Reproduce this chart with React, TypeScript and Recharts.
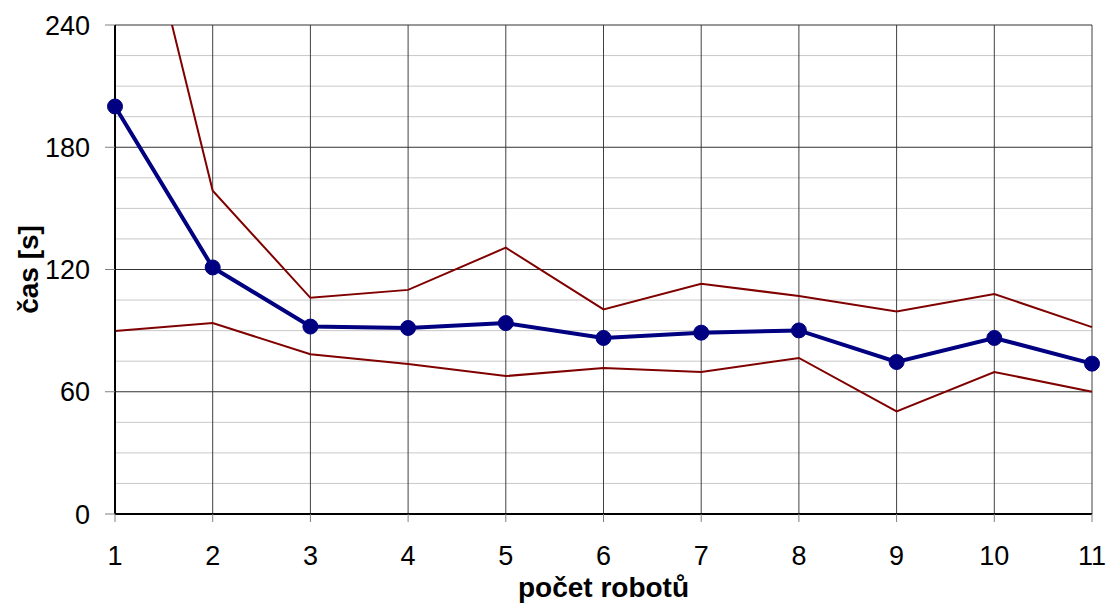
import { CartesianGrid, Line, LineChart, XAxis, YAxis } from "recharts";

const robots = [1, 2, 3, 4, 5, 6, 7, 8, 9, 10, 11];
const meanTime = [200, 121, 92, 91.3, 93.7, 86.4, 89, 90.1, 74.6, 86.4, 73.8];
const maxTime = [354, 158.7, 106.1, 110, 130.7, 100.4, 113, 107, 99.4, 108, 91.7];
const minTime = [89.8, 93.7, 78.4, 73.6, 67.7, 71.7, 69.7, 76.6, 50.4, 69.7, 60];

const yTicks = [0, 60, 120, 180, 240];
const yMinor = [15, 30, 45, 75, 90, 105, 135, 150, 165, 195, 210, 225];

const FONT = "'Liberation Sans', Arial, Helvetica, sans-serif";

const data = robots.map((x, i) => ({
  x,
  mean: meanTime[i],
  max: maxTime[i],
  min: minTime[i],
}));

function YTitle(props: any) {
  const vb = props.viewBox ?? { x: 0, y: 0, width: 0, height: 0 };
  const cx = 38;
  const cy = vb.y + vb.height / 2;
  return (
    <text
      x={cx}
      y={cy}
      transform={`rotate(-90 ${cx} ${cy})`}
      textAnchor="middle"
      fontFamily={FONT}
      fontSize={28}
      fontWeight="bold"
      fill="#000"
    >
      čas [s]
    </text>
  );
}

function XTitle(props: any) {
  const vb = props.viewBox ?? { x: 0, y: 0, width: 0, height: 0 };
  return (
    <text
      x={vb.x + vb.width / 2}
      y={597}
      textAnchor="middle"
      fontFamily={FONT}
      fontSize={28}
      fontWeight="bold"
      fill="#000"
    >
      počet robotů
    </text>
  );
}

export default function App() {
  return (
    <div style={{ position: "absolute", left: 0, top: 0, width: 1108, height: 605, background: "#fff" }}>
      {/* the upper line runs a little above the plot in the original, so give it a looser clip */}
      <style>{`.upper-line { clip-path: url(#upperClip) !important; }`}</style>
      <svg width={0} height={0} style={{ position: "absolute" }}>
        <defs>
          <clipPath id="upperClip" clipPathUnits="userSpaceOnUse">
            <rect x={0} y={16} width={1108} height={589} />
          </clipPath>
        </defs>
      </svg>
      <LineChart width={1108} height={605} data={data} margin={{ top: 25, right: 16, bottom: 0, left: 0 }}>
        <CartesianGrid vertical={false} horizontalValues={yMinor} stroke="#c8c8c8" strokeWidth={1} />
        <CartesianGrid horizontal={false} verticalValues={robots} stroke="#404040" strokeWidth={1} />
        <CartesianGrid vertical={false} horizontalValues={yTicks} stroke="#333" strokeWidth={1} />
        <XAxis
          type="number"
          dataKey="x"
          domain={[1, 11]}
          ticks={robots}
          interval={0}
          height={91}
          tickSize={8}
          tickMargin={24}
          axisLine={{ stroke: "#000", strokeWidth: 2 }}
          tickLine={{ stroke: "#808080", strokeWidth: 1 }}
          tick={{ fill: "#000", fontSize: 27, fontFamily: FONT }}
          label={<XTitle />}
        />
        <YAxis
          type="number"
          domain={[0, 240]}
          allowDataOverflow
          ticks={yTicks}
          interval={0}
          width={115}
          tickSize={10}
          tickMargin={15}
          axisLine={{ stroke: "#000", strokeWidth: 2 }}
          tickLine={{ stroke: "#808080", strokeWidth: 1 }}
          tick={{ fill: "#000", fontSize: 27, fontFamily: FONT }}
          label={<YTitle />}
        />
        <Line
          type="linear"
          dataKey="max"
          className="upper-line"
          stroke="#800000"
          strokeWidth={2}
          dot={false}
          isAnimationActive={false}
        />
        <Line
          type="linear"
          dataKey="min"
          stroke="#800000"
          strokeWidth={2}
          dot={false}
          isAnimationActive={false}
        />
        <Line
          type="linear"
          dataKey="mean"
          stroke="#000080"
          strokeWidth={4}
          dot={{ r: 7.5, fill: "#000080", stroke: "#000080", strokeWidth: 1, clipDot: false }}
          isAnimationActive={false}
        />
      </LineChart>
    </div>
  );
}
